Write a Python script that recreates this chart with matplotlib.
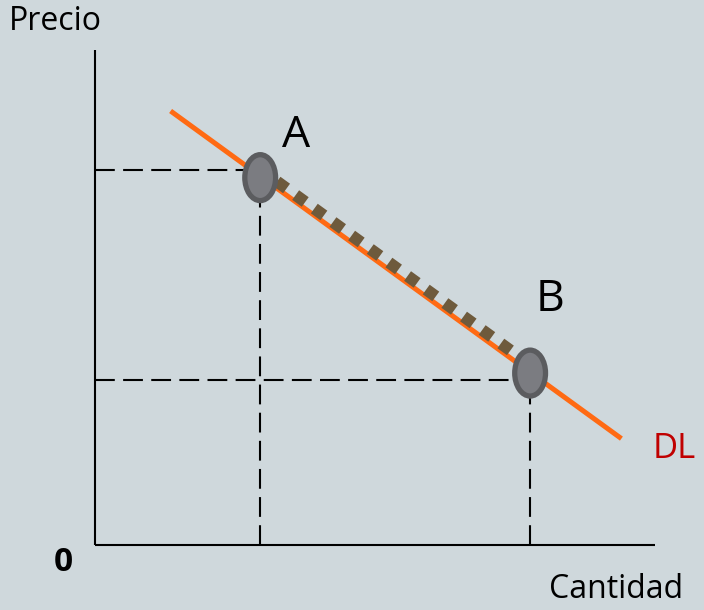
import matplotlib
matplotlib.use("Agg")
import matplotlib.pyplot as plt
from matplotlib.patches import Ellipse

# demanda lineal (unidades arbitrarias)
dl_q = [1.35, 9.4]
dl_p = [7.75, 1.9]
punto_a = (2.95, 6.56)
punto_b = (7.77, 3.07)
# niveles de las guías discontinuas
guia_q = [2.95, 7.77]
guia_p = [6.70, 2.95]
eje_q_max = 10.0
eje_p_max = 8.84

bg = "#cfd8dc"
plt.rcParams["font.family"] = ["Open Sans", "DejaVu Sans"]

fig = plt.figure(figsize=(7.04, 6.10), dpi=100, facecolor=bg)
ax = fig.add_axes([0, 0, 1, 1])
ax.set_facecolor(bg)
ax.set_xlim(-95 / 56, 609 / 56)
ax.set_ylim(-65 / 56, 545 / 56)
ax.axis("off")

# ejes
ax.plot([0, 0], [0, eje_p_max], color="black", lw=1.5, solid_capstyle="butt")
ax.plot([0, eje_q_max], [0, 0], color="black", lw=1.5, solid_capstyle="butt")

# líneas discontinuas
for q, p in zip(guia_q, guia_p):
    ax.plot([0, q], [p, p], color="black", lw=1.5, dashes=(9.5, 4))
    ax.plot([q, q], [0, p], color="black", lw=1.5, dashes=(9.5, 4))

# curva de demanda
ax.plot(dl_q, dl_p, color="#ff6a13", lw=3.6, solid_capstyle="butt")

# segmento punteado entre A y B
off = 0.15
ax.plot([punto_a[0] + 0.3, punto_b[0]], [punto_a[1] - 0.22 + off, punto_b[1] + off],
        color="#6e5a3c", lw=8.5, dashes=(1, 0.95), dash_capstyle="butt")

# puntos A y B
for q, p in [punto_a, punto_b]:
    ax.add_patch(Ellipse((q, p), 0.55, 0.82, facecolor="#7b7c81",
                         edgecolor="#5b5c5f", lw=3.8, zorder=5))

ax.text(3.59, 7.30, "A", fontsize=32, ha="center", va="center")
ax.text(8.13, 4.38, "B", fontsize=32, ha="center", va="center")
ax.text(9.95, 1.72, "DL", fontsize=25, color="#c00000", va="center")

ax.text(-0.70, 9.34, "Precio", fontsize=23, ha="center", va="center")
ax.text(-0.57, -0.32, "0", fontsize=24, fontweight="bold", ha="center", va="center")
ax.text(9.30, -0.80, "Cantidad", fontsize=23, ha="center", va="center")

fig.savefig("out.png", dpi=100, facecolor=bg)
